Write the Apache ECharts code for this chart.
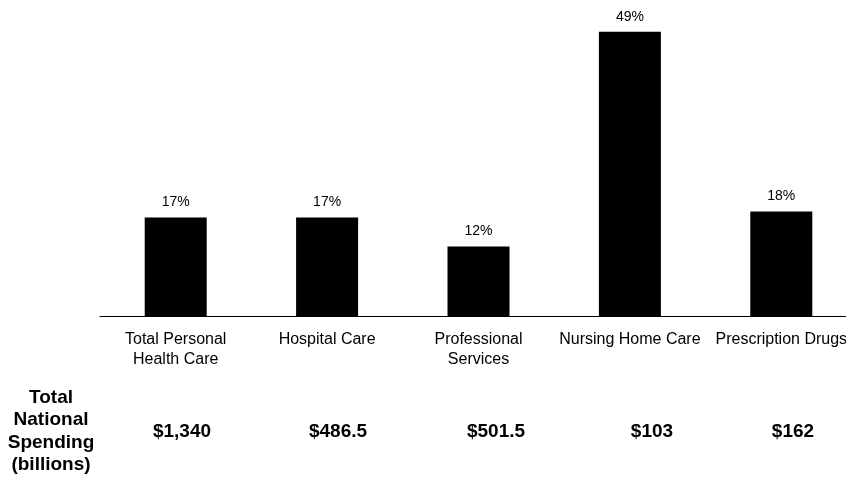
<!DOCTYPE html>
<html>
<head>
<meta charset="utf-8">
<script src="https://cdn.jsdelivr.net/npm/echarts@6/dist/echarts.min.js"></script>
<style>
  html, body { margin: 0; padding: 0; background: #fff; }
  #chart { width: 846px; height: 477px; }
</style>
</head>
<body>
<div id="chart"></div>
<script>
// Service categories and the percentage shown above each bar
const categories = [
  'Total Personal\nHealth Care',
  'Hospital Care',
  'Professional\nServices',
  'Nursing Home Care',
  'Prescription Drugs'
];
const shares = [17, 17, 12, 49, 18];

// Total national spending per category (billions of dollars)
const spendingLabels = ['$1,340', '$486.5', '$501.5', '$103', '$162'];
const spendingTitle = 'Total\nNational\nSpending\n(billions)';

const FONT = '"Liberation Sans", Arial, Helvetica, sans-serif';

// Horizontal placement of the spending row
const spendingX = [182, 338, 496, 652, 793];

const chart = echarts.init(document.getElementById('chart'), null, { renderer: 'canvas' });

const graphics = [
  {
    type: 'text',
    x: 51, y: 431.5,
    style: {
      text: spendingTitle,
      font: 'bold 19px ' + FONT,
      fill: '#000',
      align: 'center',
      verticalAlign: 'middle',
      lineHeight: 22.5
    }
  }
].concat(spendingLabels.map((t, i) => ({
  type: 'text',
  x: spendingX[i], y: 432,
  style: {
    text: t,
    font: 'bold 19px ' + FONT,
    fill: '#000',
    align: 'center',
    verticalAlign: 'middle'
  }
})));

chart.setOption({
  animation: false,
  backgroundColor: '#fff',
  grid: {
    left: 100, width: 757, top: 26, bottom: 161,
    containLabel: false,
    outerBoundsMode: 'none'
  },
  xAxis: {
    type: 'category',
    data: categories,
    axisLine: { show: true, lineStyle: { color: '#000', width: 1.2 } },
    axisTick: { show: false },
    axisLabel: {
      interval: 0,
      margin: 14,
      color: '#000',
      fontFamily: FONT,
      fontSize: 16,
      lineHeight: 20
    }
  },
  yAxis: {
    type: 'value',
    min: 0, max: 50,
    show: false,
    splitLine: { show: false }
  },
  series: [{
    type: 'bar',
    data: shares,
    barWidth: 62,
    itemStyle: { color: '#000' },
    label: {
      show: true,
      position: 'top',
      distance: 8,
      formatter: p => p.value + '%',
      color: '#000',
      fontFamily: FONT,
      fontSize: 14
    }
  }],
  graphic: graphics
});
</script>
</body>
</html>
